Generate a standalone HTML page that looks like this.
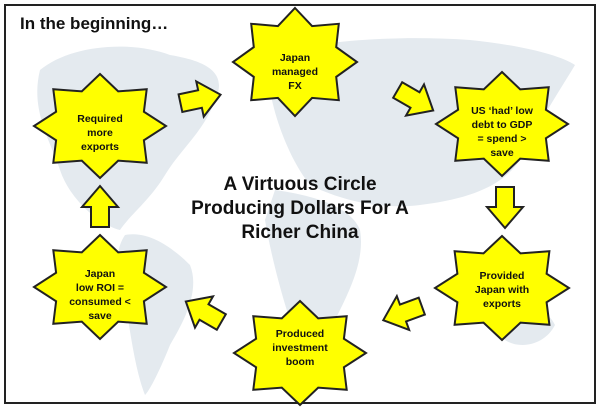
<!DOCTYPE html>
<html><head><meta charset="utf-8"><style>
html,body{margin:0;padding:0;background:#fff;}
svg{display:block;font-family:"Liberation Sans",Arial,sans-serif;}
</style></head><body>
<svg id="s" width="600" height="408" viewBox="0 0 600 408" xmlns="http://www.w3.org/2000/svg">
<rect x="0" y="0" width="600" height="408" fill="#fff"/>
<g fill="#e4eaef">
<path d="M40,70 C70,45 130,40 170,55 C200,60 230,70 215,100 C205,130 180,150 165,175 C150,200 130,215 120,230 C100,225 70,200 60,170 C50,140 30,110 40,70Z"/>
<path d="M125,235 C150,230 175,250 190,265 C200,290 185,320 170,345 C160,370 150,390 145,395 C135,370 130,330 125,300 C115,270 115,250 125,235Z"/>
<path d="M270,55 C320,40 400,35 470,40 C520,45 560,55 575,65 C560,90 540,120 520,160 C500,190 460,200 420,205 C380,210 340,200 310,185 C290,160 275,120 270,90Z"/>
<path d="M275,190 C310,195 350,205 360,230 C365,260 350,290 335,320 C320,340 300,340 290,320 C280,290 270,250 265,220Z"/>
<path d="M500,310 C520,300 545,305 555,325 C545,345 520,350 505,340Z"/>
</g>
<rect x="5" y="5" width="590" height="398" fill="none" stroke="#222" stroke-width="2"/>
<g id="g" fill="#ffff00" stroke="#222" stroke-width="2" stroke-linejoin="miter"></g>
<text x="20" y="29" font-size="17" font-weight="bold" fill="#111">In the beginning…</text>
<g font-size="19" font-weight="bold" fill="#111" text-anchor="middle">
<text x="300" y="190">A Virtuous Circle</text>
<text x="300" y="214">Producing Dollars For A</text>
<text x="300" y="238">Richer China</text>
</g>
<g font-size="10.5" font-weight="bold" fill="#111" text-anchor="middle">
<text x="100" y="122">Required</text><text x="100" y="136">more</text><text x="100" y="150">exports</text>
<text x="295" y="61">Japan</text><text x="295" y="75">managed</text><text x="295" y="89">FX</text>
<text x="502" y="114">US ‘had’ low</text><text x="502" y="128">debt to GDP</text><text x="502" y="142">= spend &gt;</text><text x="502" y="156">save</text>
<text x="502" y="279">Provided</text><text x="502" y="293">Japan with</text><text x="502" y="307">exports</text>
<text x="300" y="337">Produced</text><text x="300" y="351">investment</text><text x="300" y="365">boom</text>
<text x="100" y="277">Japan</text><text x="100" y="291">low ROI =</text><text x="100" y="305">consumed &lt;</text><text x="100" y="319">save</text>
</g>
</svg>
<script>
var g=document.getElementById('g'),ns='http://www.w3.org/2000/svg';
function star(cx,cy,rx,ry){var p=[];for(var i=0;i<16;i++){var a=-Math.PI/2+i*Math.PI/8,k=i%2?0.72:1;p.push((cx+rx*k*Math.cos(a)).toFixed(1)+','+(cy+ry*k*Math.sin(a)).toFixed(1));}
var e=document.createElementNS(ns,'polygon');e.setAttribute('points',p.join(' '));g.appendChild(e);}
function arrow(cx,cy,ang){var pts=[[-20,-9],[0,-9],[0,-18],[21,0],[0,18],[0,9],[-20,9]];
var e=document.createElementNS(ns,'polygon');e.setAttribute('points',pts.map(function(q){return q.join(',')}).join(' '));
e.setAttribute('transform','translate('+cx+','+cy+') rotate('+ang+')');g.appendChild(e);}
star(100,126,66,52);star(295,62,62,54);star(502,124,66,52);star(502,288,67,52);star(300,353,66,52);star(100,287,66,52);
arrow(200,99,-12);arrow(415,100,30);arrow(505,207,90);arrow(403,313,160);arrow(204,312,-150);arrow(100,207,-90);
</script>
</body></html>
